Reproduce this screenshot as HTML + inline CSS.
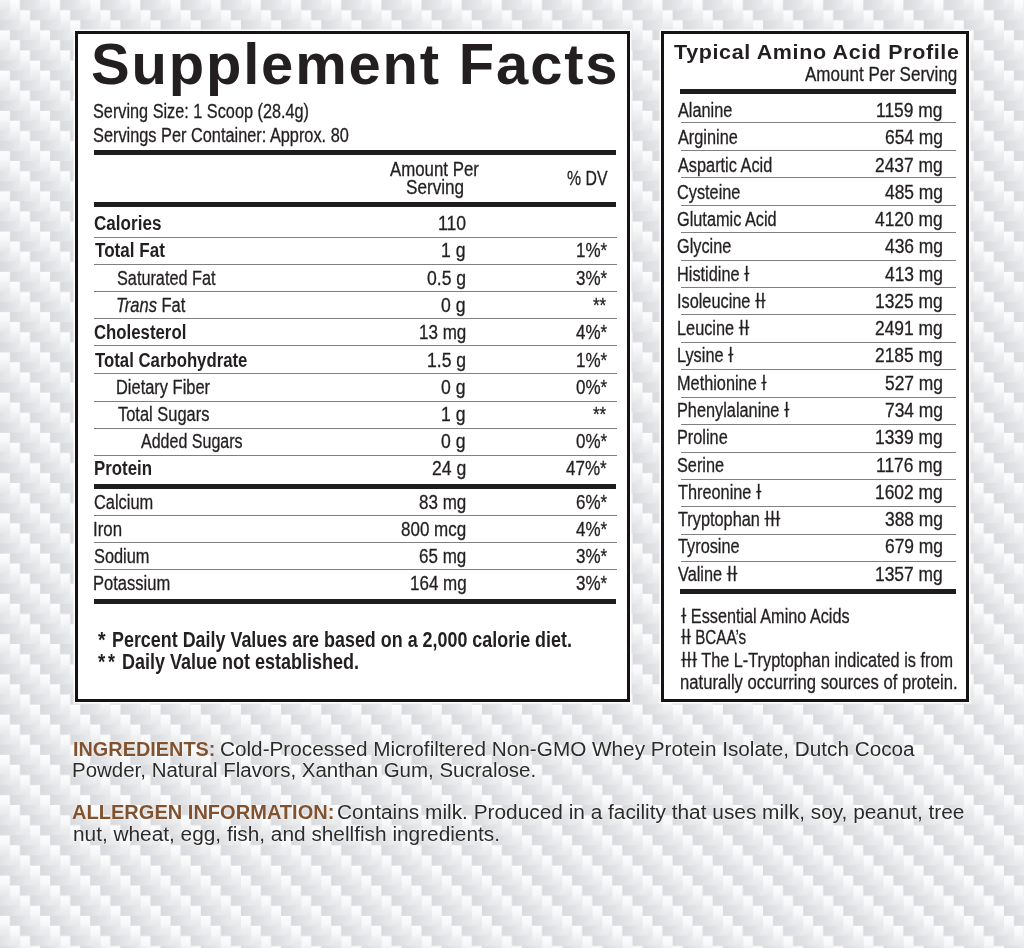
<!DOCTYPE html>
<html><head><meta charset="utf-8"><title>Supplement Facts</title>
<style>
html,body{margin:0;padding:0}
body{width:1024px;height:948px;overflow:hidden;position:relative;background:#e6e6e7}
.bg{position:absolute;left:0;top:0}
.box{position:absolute;background:#fff;border:3px solid #151314;box-sizing:border-box;box-shadow:0 0 0 1.5px rgba(255,255,255,.95)}
.r{position:absolute}
.t{position:absolute;white-space:pre;line-height:normal;transform-origin:0 0}
.t i{font-style:italic}
.g{text-shadow:0 0 2px rgba(255,255,255,.9),0 0 1px rgba(255,255,255,.9)}
</style></head><body>
<svg class="bg" width="1024" height="948"><defs><pattern id="cf" x="0" y="0" width="40.160" height="40.252" patternUnits="userSpaceOnUse"><linearGradient id='gw' x1='0' y1='0' x2='0' y2='1'><stop offset='0' stop-color='#fdfdfe'/><stop offset='0.45' stop-color='#f6f7f8'/><stop offset='0.55' stop-color='#f1f2f3'/><stop offset='1' stop-color='#e7e8ea'/></linearGradient><linearGradient id='gf' x1='0' y1='0' x2='1' y2='0'><stop offset='0' stop-color='#d9dadd'/><stop offset='0.5' stop-color='#e0e1e4'/><stop offset='1' stop-color='#eaebed'/></linearGradient><rect x='0.000' y='30.189' width='10.070' height='20.156' fill='url(#gw)'/><rect x='0.000' y='-10.063' width='10.070' height='20.156' fill='url(#gw)'/><rect x='10.040' y='0.000' width='10.070' height='20.156' fill='url(#gw)'/><rect x='10.040' y='-40.252' width='10.070' height='20.156' fill='url(#gw)'/><rect x='20.080' y='10.063' width='10.070' height='20.156' fill='url(#gw)'/><rect x='20.080' y='-30.189' width='10.070' height='20.156' fill='url(#gw)'/><rect x='30.120' y='20.126' width='10.070' height='20.156' fill='url(#gw)'/><rect x='30.120' y='-20.126' width='10.070' height='20.156' fill='url(#gw)'/><rect x='20.080' y='0.000' width='20.110' height='10.093' fill='url(#gf)'/><rect x='-20.080' y='0.000' width='20.110' height='10.093' fill='url(#gf)'/><rect x='30.120' y='10.063' width='20.110' height='10.093' fill='url(#gf)'/><rect x='-10.040' y='10.063' width='20.110' height='10.093' fill='url(#gf)'/><rect x='40.160' y='20.126' width='20.110' height='10.093' fill='url(#gf)'/><rect x='0.000' y='20.126' width='20.110' height='10.093' fill='url(#gf)'/><rect x='10.040' y='30.189' width='20.110' height='10.093' fill='url(#gf)'/><rect x='-30.120' y='30.189' width='20.110' height='10.093' fill='url(#gf)'/></pattern></defs><filter id="bl" x="0" y="0" width="1" height="1"><feGaussianBlur stdDeviation="0.6"/></filter><rect width="1024" height="948" fill="url(#cf)" filter="url(#bl)"/></svg>
<div class="box" style="left:75px;top:31px;width:555px;height:671px"></div>
<div class="box" style="left:661px;top:31px;width:308px;height:671px"></div>
<div class=r style='left:94px;top:150px;width:522px;height:5px;background:#1e1c1d'></div><div class=r style='left:94px;top:202px;width:522px;height:5px;background:#1e1c1d'></div><div class=r style='left:94px;top:237px;width:523px;height:1px;background:#808080'></div><div class=r style='left:94px;top:264px;width:523px;height:1px;background:#808080'></div><div class=r style='left:94px;top:291px;width:523px;height:1px;background:#808080'></div><div class=r style='left:94px;top:318px;width:523px;height:1px;background:#808080'></div><div class=r style='left:94px;top:345px;width:523px;height:1px;background:#808080'></div><div class=r style='left:94px;top:372.6px;width:523px;height:1px;background:#808080'></div><div class=r style='left:94px;top:400.6px;width:523px;height:1px;background:#808080'></div><div class=r style='left:94px;top:428px;width:523px;height:1px;background:#808080'></div><div class=r style='left:94px;top:455px;width:523px;height:1px;background:#808080'></div><div class=r style='left:94px;top:484px;width:522px;height:4.5px;background:#1e1c1d'></div><div class=r style='left:94px;top:515px;width:523px;height:1px;background:#808080'></div><div class=r style='left:94px;top:542.4px;width:523px;height:1px;background:#808080'></div><div class=r style='left:94px;top:569px;width:523px;height:1px;background:#808080'></div><div class=r style='left:94px;top:598.5px;width:522px;height:5px;background:#1e1c1d'></div><div class=r style='left:679.7px;top:89px;width:275.9px;height:5px;background:#1e1c1d'></div><div class=r style='left:680.7px;top:122.3px;width:275.8px;height:1px;background:#808080'></div><div class=r style='left:680.7px;top:149.74px;width:275.8px;height:1px;background:#808080'></div><div class=r style='left:680.7px;top:177.18px;width:275.8px;height:1px;background:#808080'></div><div class=r style='left:680.7px;top:204.62px;width:275.8px;height:1px;background:#808080'></div><div class=r style='left:680.7px;top:232.06px;width:275.8px;height:1px;background:#808080'></div><div class=r style='left:680.7px;top:259.5px;width:275.8px;height:1px;background:#808080'></div><div class=r style='left:680.7px;top:286.94px;width:275.8px;height:1px;background:#808080'></div><div class=r style='left:680.7px;top:314.38px;width:275.8px;height:1px;background:#808080'></div><div class=r style='left:680.7px;top:341.82px;width:275.8px;height:1px;background:#808080'></div><div class=r style='left:680.7px;top:369.26px;width:275.8px;height:1px;background:#808080'></div><div class=r style='left:680.7px;top:396.7px;width:275.8px;height:1px;background:#808080'></div><div class=r style='left:680.7px;top:424.14px;width:275.8px;height:1px;background:#808080'></div><div class=r style='left:680.7px;top:451.58px;width:275.8px;height:1px;background:#808080'></div><div class=r style='left:680.7px;top:479.02px;width:275.8px;height:1px;background:#808080'></div><div class=r style='left:680.7px;top:506.46px;width:275.8px;height:1px;background:#808080'></div><div class=r style='left:680.7px;top:533.9px;width:275.8px;height:1px;background:#808080'></div><div class=r style='left:680.7px;top:561.34px;width:275.8px;height:1px;background:#808080'></div><div class=r style='left:679.7px;top:589.2px;width:275.9px;height:5.2px;background:#1e1c1d'></div>
<div class='t' style="font-family:'Liberation Sans',sans-serif;font-size:57px;font-weight:700;letter-spacing:1.8px;left:90.57px;top:31.2px;color:#231f20;transform:scaleX(1.0167);">Supplement Facts</div>
<div class='t' style="font-family:'Liberation Sans',sans-serif;font-size:20px;font-weight:400;left:93.19px;top:99.8px;color:#231f20;transform:scaleX(0.8129);-webkit-text-stroke:0.3px #231f20">Serving Size: 1 Scoop (28.4g)</div>
<div class='t' style="font-family:'Liberation Sans',sans-serif;font-size:20px;font-weight:400;left:93.18px;top:123.9px;color:#231f20;transform:scaleX(0.8160);-webkit-text-stroke:0.3px #231f20">Servings Per Container: Approx. 80</div>
<div class='t' style="font-family:'Liberation Sans',sans-serif;font-size:20px;font-weight:400;left:390.4px;top:158px;color:#231f20;transform:scaleX(0.8419);-webkit-text-stroke:0.3px #231f20">Amount Per</div>
<div class='t' style="font-family:'Liberation Sans',sans-serif;font-size:20px;font-weight:400;left:405.74px;top:175.8px;color:#231f20;transform:scaleX(0.8576);-webkit-text-stroke:0.3px #231f20">Serving</div>
<div class='t' style="font-family:'Liberation Sans',sans-serif;font-size:20px;font-weight:400;left:567.21px;top:166.7px;color:#231f20;transform:scaleX(0.7920);-webkit-text-stroke:0.3px #231f20">% DV</div>
<div class='t' style="font-family:'Liberation Sans',sans-serif;font-size:20px;font-weight:700;left:94.15px;top:212.3px;color:#231f20;transform:scaleX(0.8545);">Calories</div>
<div class='t' style="font-family:'Liberation Sans',sans-serif;font-size:20px;font-weight:400;left:437.92px;top:212.3px;color:#231f20;transform:scaleX(0.8800);-webkit-text-stroke:0.3px #231f20">110</div>
<div class='t' style="font-family:'Liberation Sans',sans-serif;font-size:20px;font-weight:700;left:95px;top:239.3px;color:#231f20;transform:scaleX(0.8537);">Total Fat</div>
<div class='t' style="font-family:'Liberation Sans',sans-serif;font-size:20px;font-weight:400;left:441.44px;top:239.3px;color:#231f20;transform:scaleX(0.8800);-webkit-text-stroke:0.3px #231f20">1 g</div>
<div class='t' style="font-family:'Liberation Sans',sans-serif;font-size:20px;font-weight:400;left:575.6px;top:239.3px;color:#231f20;transform:scaleX(0.8500);-webkit-text-stroke:0.3px #231f20">1%*</div>
<div class='t' style="font-family:'Liberation Sans',sans-serif;font-size:20px;font-weight:400;left:117.19px;top:266.6px;color:#231f20;transform:scaleX(0.8125);-webkit-text-stroke:0.3px #231f20">Saturated Fat</div>
<div class='t' style="font-family:'Liberation Sans',sans-serif;font-size:20px;font-weight:400;left:427.36px;top:266.6px;color:#231f20;transform:scaleX(0.8800);-webkit-text-stroke:0.3px #231f20">0.5 g</div>
<div class='t' style="font-family:'Liberation Sans',sans-serif;font-size:20px;font-weight:400;left:575.6px;top:266.6px;color:#231f20;transform:scaleX(0.8500);-webkit-text-stroke:0.3px #231f20">3%*</div>
<div class='t' style="font-family:'Liberation Sans',sans-serif;font-size:20px;font-weight:400;left:116.35px;top:293.7px;color:#231f20;transform:scaleX(0.8244);-webkit-text-stroke:0.3px #231f20"><i>Trans</i> Fat</div>
<div class='t' style="font-family:'Liberation Sans',sans-serif;font-size:20px;font-weight:400;left:441.44px;top:293.7px;color:#231f20;transform:scaleX(0.8800);-webkit-text-stroke:0.3px #231f20">0 g</div>
<div class='t' style="font-family:'Liberation Sans',sans-serif;font-size:20px;font-weight:400;left:593.45px;top:293.7px;color:#231f20;transform:scaleX(0.8500);-webkit-text-stroke:0.3px #231f20">**</div>
<div class='t' style="font-family:'Liberation Sans',sans-serif;font-size:20px;font-weight:700;left:94.16px;top:320.8px;color:#231f20;transform:scaleX(0.8389);">Cholesterol</div>
<div class='t' style="font-family:'Liberation Sans',sans-serif;font-size:20px;font-weight:400;left:419.3px;top:320.8px;color:#231f20;transform:scaleX(0.8500);-webkit-text-stroke:0.3px #231f20">13 mg</div>
<div class='t' style="font-family:'Liberation Sans',sans-serif;font-size:20px;font-weight:400;left:575.6px;top:320.8px;color:#231f20;transform:scaleX(0.8500);-webkit-text-stroke:0.3px #231f20">4%*</div>
<div class='t' style="font-family:'Liberation Sans',sans-serif;font-size:20px;font-weight:700;left:95px;top:348.5px;color:#231f20;transform:scaleX(0.8381);">Total Carbohydrate</div>
<div class='t' style="font-family:'Liberation Sans',sans-serif;font-size:20px;font-weight:400;left:427.36px;top:348.5px;color:#231f20;transform:scaleX(0.8800);-webkit-text-stroke:0.3px #231f20">1.5 g</div>
<div class='t' style="font-family:'Liberation Sans',sans-serif;font-size:20px;font-weight:400;left:575.6px;top:348.5px;color:#231f20;transform:scaleX(0.8500);-webkit-text-stroke:0.3px #231f20">1%*</div>
<div class='t' style="font-family:'Liberation Sans',sans-serif;font-size:20px;font-weight:400;left:116.36px;top:375.7px;color:#231f20;transform:scaleX(0.8214);-webkit-text-stroke:0.3px #231f20">Dietary Fiber</div>
<div class='t' style="font-family:'Liberation Sans',sans-serif;font-size:20px;font-weight:400;left:441.44px;top:375.7px;color:#231f20;transform:scaleX(0.8800);-webkit-text-stroke:0.3px #231f20">0 g</div>
<div class='t' style="font-family:'Liberation Sans',sans-serif;font-size:20px;font-weight:400;left:575.6px;top:375.7px;color:#231f20;transform:scaleX(0.8500);-webkit-text-stroke:0.3px #231f20">0%*</div>
<div class='t' style="font-family:'Liberation Sans',sans-serif;font-size:20px;font-weight:400;left:118px;top:402.8px;color:#231f20;transform:scaleX(0.8218);-webkit-text-stroke:0.3px #231f20">Total Sugars</div>
<div class='t' style="font-family:'Liberation Sans',sans-serif;font-size:20px;font-weight:400;left:441.44px;top:402.8px;color:#231f20;transform:scaleX(0.8800);-webkit-text-stroke:0.3px #231f20">1 g</div>
<div class='t' style="font-family:'Liberation Sans',sans-serif;font-size:20px;font-weight:400;left:593.45px;top:402.8px;color:#231f20;transform:scaleX(0.8500);-webkit-text-stroke:0.3px #231f20">**</div>
<div class='t' style="font-family:'Liberation Sans',sans-serif;font-size:20px;font-weight:400;left:141.2px;top:430.2px;color:#231f20;transform:scaleX(0.8016);-webkit-text-stroke:0.3px #231f20">Added Sugars</div>
<div class='t' style="font-family:'Liberation Sans',sans-serif;font-size:20px;font-weight:400;left:441.44px;top:430.2px;color:#231f20;transform:scaleX(0.8800);-webkit-text-stroke:0.3px #231f20">0 g</div>
<div class='t' style="font-family:'Liberation Sans',sans-serif;font-size:20px;font-weight:400;left:575.6px;top:430.2px;color:#231f20;transform:scaleX(0.8500);-webkit-text-stroke:0.3px #231f20">0%*</div>
<div class='t' style="font-family:'Liberation Sans',sans-serif;font-size:20px;font-weight:700;left:94.16px;top:457.2px;color:#231f20;transform:scaleX(0.8418);">Protein</div>
<div class='t' style="font-family:'Liberation Sans',sans-serif;font-size:20px;font-weight:400;left:431.76px;top:457.2px;color:#231f20;transform:scaleX(0.8800);-webkit-text-stroke:0.3px #231f20">24 g</div>
<div class='t' style="font-family:'Liberation Sans',sans-serif;font-size:20px;font-weight:400;left:566.25px;top:457.2px;color:#231f20;transform:scaleX(0.8500);-webkit-text-stroke:0.3px #231f20">47%*</div>
<div class='t' style="font-family:'Liberation Sans',sans-serif;font-size:20px;font-weight:400;left:94.18px;top:491px;color:#231f20;transform:scaleX(0.8200);-webkit-text-stroke:0.3px #231f20">Calcium</div>
<div class='t' style="font-family:'Liberation Sans',sans-serif;font-size:20px;font-weight:400;left:419.3px;top:491px;color:#231f20;transform:scaleX(0.8500);-webkit-text-stroke:0.3px #231f20">83 mg</div>
<div class='t' style="font-family:'Liberation Sans',sans-serif;font-size:20px;font-weight:400;left:575.6px;top:491px;color:#231f20;transform:scaleX(0.8500);-webkit-text-stroke:0.3px #231f20">6%*</div>
<div class='t' style="font-family:'Liberation Sans',sans-serif;font-size:20px;font-weight:400;left:93.32px;top:518px;color:#231f20;transform:scaleX(0.8419);-webkit-text-stroke:0.3px #231f20">Iron</div>
<div class='t' style="font-family:'Liberation Sans',sans-serif;font-size:20px;font-weight:400;left:401.45px;top:518px;color:#231f20;transform:scaleX(0.8500);-webkit-text-stroke:0.3px #231f20">800 mcg</div>
<div class='t' style="font-family:'Liberation Sans',sans-serif;font-size:20px;font-weight:400;left:575.6px;top:518px;color:#231f20;transform:scaleX(0.8500);-webkit-text-stroke:0.3px #231f20">4%*</div>
<div class='t' style="font-family:'Liberation Sans',sans-serif;font-size:20px;font-weight:400;left:94.18px;top:545px;color:#231f20;transform:scaleX(0.8182);-webkit-text-stroke:0.3px #231f20">Sodium</div>
<div class='t' style="font-family:'Liberation Sans',sans-serif;font-size:20px;font-weight:400;left:419.3px;top:545px;color:#231f20;transform:scaleX(0.8500);-webkit-text-stroke:0.3px #231f20">65 mg</div>
<div class='t' style="font-family:'Liberation Sans',sans-serif;font-size:20px;font-weight:400;left:575.6px;top:545px;color:#231f20;transform:scaleX(0.8500);-webkit-text-stroke:0.3px #231f20">3%*</div>
<div class='t' style="font-family:'Liberation Sans',sans-serif;font-size:20px;font-weight:400;left:93.35px;top:572px;color:#231f20;transform:scaleX(0.8267);-webkit-text-stroke:0.3px #231f20">Potassium</div>
<div class='t' style="font-family:'Liberation Sans',sans-serif;font-size:20px;font-weight:400;left:409.95px;top:572px;color:#231f20;transform:scaleX(0.8500);-webkit-text-stroke:0.3px #231f20">164 mg</div>
<div class='t' style="font-family:'Liberation Sans',sans-serif;font-size:20px;font-weight:400;left:575.6px;top:572px;color:#231f20;transform:scaleX(0.8500);-webkit-text-stroke:0.3px #231f20">3%*</div>
<div class='t' style="font-family:'Liberation Sans',sans-serif;font-size:22.3px;font-weight:700;left:97.6px;top:626.6px;color:#231f20;transform:scaleX(0.8750);">*</div>
<div class='t' style="font-family:'Liberation Sans',sans-serif;font-size:22.3px;font-weight:700;left:112px;top:627.3px;color:#231f20;transform:scaleX(0.8032);">Percent Daily Values are based on a 2,000 calorie diet.</div>
<div class='t' style="font-family:'Liberation Sans',sans-serif;font-size:22.3px;font-weight:700;left:97.6px;top:648.5px;color:#231f20;transform:scaleX(0.8375);">*</div>
<div class='t' style="font-family:'Liberation Sans',sans-serif;font-size:22.3px;font-weight:700;left:108.4px;top:648.5px;color:#231f20;transform:scaleX(0.8000);">*</div>
<div class='t' style="font-family:'Liberation Sans',sans-serif;font-size:22.3px;font-weight:700;left:122.19px;top:649.2px;color:#231f20;transform:scaleX(0.8072);">Daily Value not established.</div>
<div class='t' style="font-family:'Liberation Sans',sans-serif;font-size:20.5px;font-weight:700;letter-spacing:0.6px;left:673.8px;top:39.9px;color:#231f20;transform:scaleX(1.0487);">Typical Amino Acid Profile</div>
<div class='t' style="font-family:'Liberation Sans',sans-serif;font-size:20px;font-weight:400;left:805px;top:63.4px;color:#231f20;transform:scaleX(0.8511);-webkit-text-stroke:0.3px #231f20">Amount Per Serving</div>
<div class='t' style="font-family:'Liberation Sans',sans-serif;font-size:20px;font-weight:400;left:678.3px;top:99px;color:#231f20;transform:scaleX(0.8150);-webkit-text-stroke:0.3px #231f20">Alanine</div>
<div class='t' style="font-family:'Liberation Sans',sans-serif;font-size:20px;font-weight:400;left:876.45px;top:99px;color:#231f20;transform:scaleX(0.8700);-webkit-text-stroke:0.3px #231f20">1159 mg</div>
<div class='t' style="font-family:'Liberation Sans',sans-serif;font-size:20px;font-weight:400;left:678.3px;top:126.27px;color:#231f20;transform:scaleX(0.8150);-webkit-text-stroke:0.3px #231f20">Arginine</div>
<div class='t' style="font-family:'Liberation Sans',sans-serif;font-size:20px;font-weight:400;left:885.15px;top:126.27px;color:#231f20;transform:scaleX(0.8700);-webkit-text-stroke:0.3px #231f20">654 mg</div>
<div class='t' style="font-family:'Liberation Sans',sans-serif;font-size:20px;font-weight:400;left:678.3px;top:153.54px;color:#231f20;transform:scaleX(0.8150);-webkit-text-stroke:0.3px #231f20">Aspartic Acid</div>
<div class='t' style="font-family:'Liberation Sans',sans-serif;font-size:20px;font-weight:400;left:874.71px;top:153.54px;color:#231f20;transform:scaleX(0.8700);-webkit-text-stroke:0.3px #231f20">2437 mg</div>
<div class='t' style="font-family:'Liberation Sans',sans-serif;font-size:20px;font-weight:400;left:677.48px;top:180.81px;color:#231f20;transform:scaleX(0.8150);-webkit-text-stroke:0.3px #231f20">Cysteine</div>
<div class='t' style="font-family:'Liberation Sans',sans-serif;font-size:20px;font-weight:400;left:885.15px;top:180.81px;color:#231f20;transform:scaleX(0.8700);-webkit-text-stroke:0.3px #231f20">485 mg</div>
<div class='t' style="font-family:'Liberation Sans',sans-serif;font-size:20px;font-weight:400;left:677.48px;top:208.08px;color:#231f20;transform:scaleX(0.8150);-webkit-text-stroke:0.3px #231f20">Glutamic Acid</div>
<div class='t' style="font-family:'Liberation Sans',sans-serif;font-size:20px;font-weight:400;left:874.71px;top:208.08px;color:#231f20;transform:scaleX(0.8700);-webkit-text-stroke:0.3px #231f20">4120 mg</div>
<div class='t' style="font-family:'Liberation Sans',sans-serif;font-size:20px;font-weight:400;left:677.48px;top:235.35px;color:#231f20;transform:scaleX(0.8150);-webkit-text-stroke:0.3px #231f20">Glycine</div>
<div class='t' style="font-family:'Liberation Sans',sans-serif;font-size:20px;font-weight:400;left:885.15px;top:235.35px;color:#231f20;transform:scaleX(0.8700);-webkit-text-stroke:0.3px #231f20">436 mg</div>
<div class='t' style="font-family:'Liberation Sans',sans-serif;font-size:20px;font-weight:400;left:676.67px;top:262.62px;color:#231f20;transform:scaleX(0.8150);-webkit-text-stroke:0.3px #231f20">Histidine ɫ</div>
<div class='t' style="font-family:'Liberation Sans',sans-serif;font-size:20px;font-weight:400;left:885.15px;top:262.62px;color:#231f20;transform:scaleX(0.8700);-webkit-text-stroke:0.3px #231f20">413 mg</div>
<div class='t' style="font-family:'Liberation Sans',sans-serif;font-size:20px;font-weight:400;left:676.67px;top:289.89px;color:#231f20;transform:scaleX(0.8150);-webkit-text-stroke:0.3px #231f20">Isoleucine ɫɫ</div>
<div class='t' style="font-family:'Liberation Sans',sans-serif;font-size:20px;font-weight:400;left:874.71px;top:289.89px;color:#231f20;transform:scaleX(0.8700);-webkit-text-stroke:0.3px #231f20">1325 mg</div>
<div class='t' style="font-family:'Liberation Sans',sans-serif;font-size:20px;font-weight:400;left:676.67px;top:317.16px;color:#231f20;transform:scaleX(0.8150);-webkit-text-stroke:0.3px #231f20">Leucine ɫɫ</div>
<div class='t' style="font-family:'Liberation Sans',sans-serif;font-size:20px;font-weight:400;left:874.71px;top:317.16px;color:#231f20;transform:scaleX(0.8700);-webkit-text-stroke:0.3px #231f20">2491 mg</div>
<div class='t' style="font-family:'Liberation Sans',sans-serif;font-size:20px;font-weight:400;left:676.67px;top:344.43px;color:#231f20;transform:scaleX(0.8150);-webkit-text-stroke:0.3px #231f20">Lysine ɫ</div>
<div class='t' style="font-family:'Liberation Sans',sans-serif;font-size:20px;font-weight:400;left:874.71px;top:344.43px;color:#231f20;transform:scaleX(0.8700);-webkit-text-stroke:0.3px #231f20">2185 mg</div>
<div class='t' style="font-family:'Liberation Sans',sans-serif;font-size:20px;font-weight:400;left:676.67px;top:371.7px;color:#231f20;transform:scaleX(0.8150);-webkit-text-stroke:0.3px #231f20">Methionine ɫ</div>
<div class='t' style="font-family:'Liberation Sans',sans-serif;font-size:20px;font-weight:400;left:885.15px;top:371.7px;color:#231f20;transform:scaleX(0.8700);-webkit-text-stroke:0.3px #231f20">527 mg</div>
<div class='t' style="font-family:'Liberation Sans',sans-serif;font-size:20px;font-weight:400;left:676.67px;top:398.97px;color:#231f20;transform:scaleX(0.8150);-webkit-text-stroke:0.3px #231f20">Phenylalanine ɫ</div>
<div class='t' style="font-family:'Liberation Sans',sans-serif;font-size:20px;font-weight:400;left:885.15px;top:398.97px;color:#231f20;transform:scaleX(0.8700);-webkit-text-stroke:0.3px #231f20">734 mg</div>
<div class='t' style="font-family:'Liberation Sans',sans-serif;font-size:20px;font-weight:400;left:676.67px;top:426.24px;color:#231f20;transform:scaleX(0.8150);-webkit-text-stroke:0.3px #231f20">Proline</div>
<div class='t' style="font-family:'Liberation Sans',sans-serif;font-size:20px;font-weight:400;left:874.71px;top:426.24px;color:#231f20;transform:scaleX(0.8700);-webkit-text-stroke:0.3px #231f20">1339 mg</div>
<div class='t' style="font-family:'Liberation Sans',sans-serif;font-size:20px;font-weight:400;left:677.48px;top:453.51px;color:#231f20;transform:scaleX(0.8150);-webkit-text-stroke:0.3px #231f20">Serine</div>
<div class='t' style="font-family:'Liberation Sans',sans-serif;font-size:20px;font-weight:400;left:876.45px;top:453.51px;color:#231f20;transform:scaleX(0.8700);-webkit-text-stroke:0.3px #231f20">1176 mg</div>
<div class='t' style="font-family:'Liberation Sans',sans-serif;font-size:20px;font-weight:400;left:678.3px;top:480.78px;color:#231f20;transform:scaleX(0.8150);-webkit-text-stroke:0.3px #231f20">Threonine ɫ</div>
<div class='t' style="font-family:'Liberation Sans',sans-serif;font-size:20px;font-weight:400;left:874.71px;top:480.78px;color:#231f20;transform:scaleX(0.8700);-webkit-text-stroke:0.3px #231f20">1602 mg</div>
<div class='t' style="font-family:'Liberation Sans',sans-serif;font-size:20px;font-weight:400;left:678.3px;top:508.05px;color:#231f20;transform:scaleX(0.8150);-webkit-text-stroke:0.3px #231f20">Tryptophan ɫɫɫ</div>
<div class='t' style="font-family:'Liberation Sans',sans-serif;font-size:20px;font-weight:400;left:885.15px;top:508.05px;color:#231f20;transform:scaleX(0.8700);-webkit-text-stroke:0.3px #231f20">388 mg</div>
<div class='t' style="font-family:'Liberation Sans',sans-serif;font-size:20px;font-weight:400;left:678.3px;top:535.32px;color:#231f20;transform:scaleX(0.8150);-webkit-text-stroke:0.3px #231f20">Tyrosine</div>
<div class='t' style="font-family:'Liberation Sans',sans-serif;font-size:20px;font-weight:400;left:885.15px;top:535.32px;color:#231f20;transform:scaleX(0.8700);-webkit-text-stroke:0.3px #231f20">679 mg</div>
<div class='t' style="font-family:'Liberation Sans',sans-serif;font-size:20px;font-weight:400;left:678.3px;top:562.59px;color:#231f20;transform:scaleX(0.8150);-webkit-text-stroke:0.3px #231f20">Valine ɫɫ</div>
<div class='t' style="font-family:'Liberation Sans',sans-serif;font-size:20px;font-weight:400;left:874.71px;top:562.59px;color:#231f20;transform:scaleX(0.8700);-webkit-text-stroke:0.3px #231f20">1357 mg</div>
<div class='t' style="font-family:'Liberation Sans',sans-serif;font-size:20px;font-weight:400;left:681px;top:604.8px;color:#231f20;transform:scaleX(0.8116);-webkit-text-stroke:0.3px #231f20">ɫ Essential Amino Acids</div>
<div class='t' style="font-family:'Liberation Sans',sans-serif;font-size:20px;font-weight:400;left:681px;top:626.2px;color:#231f20;transform:scaleX(0.7600);-webkit-text-stroke:0.3px #231f20">ɫɫ BCAA’s</div>
<div class='t' style="font-family:'Liberation Sans',sans-serif;font-size:20px;font-weight:400;left:681px;top:648.8px;color:#231f20;transform:scaleX(0.8138);-webkit-text-stroke:0.3px #231f20">ɫɫɫ The L-Tryptophan indicated is from</div>
<div class='t' style="font-family:'Liberation Sans',sans-serif;font-size:20px;font-weight:400;left:680.17px;top:671.3px;color:#231f20;transform:scaleX(0.8323);-webkit-text-stroke:0.3px #231f20">naturally occurring sources of protein.</div>
<div class='t g' style="font-family:'Liberation Sans',sans-serif;font-size:20px;font-weight:700;left:72.81px;top:737.5px;color:#805230;transform:scaleX(0.9936);">INGREDIENTS:</div>
<div class='t g' style="font-family:'Liberation Sans',sans-serif;font-size:20px;font-weight:400;left:220.46px;top:737.5px;color:#2b2b2b;transform:scaleX(1.0363);">Cold-Processed Microfiltered Non-GMO Whey Protein Isolate, Dutch Cocoa</div>
<div class='t g' style="font-family:'Liberation Sans',sans-serif;font-size:20px;font-weight:400;left:71.75px;top:758.7px;color:#2b2b2b;transform:scaleX(1.0233);">Powder, Natural Flavors, Xanthan Gum, Sucralose.</div>
<div class='t g' style="font-family:'Liberation Sans',sans-serif;font-size:20px;font-weight:700;left:72.4px;top:801.4px;color:#805230;transform:scaleX(1.0023);">ALLERGEN INFORMATION:</div>
<div class='t g' style="font-family:'Liberation Sans',sans-serif;font-size:20px;font-weight:400;left:336.96px;top:801.4px;color:#2b2b2b;transform:scaleX(1.0420);">Contains milk. Produced in a facility that uses milk, soy, peanut, tree</div>
<div class='t g' style="font-family:'Liberation Sans',sans-serif;font-size:20px;font-weight:400;left:72.76px;top:822.5px;color:#2b2b2b;transform:scaleX(1.0408);">nut, wheat, egg, fish, and shellfish ingredients.</div>
</body></html>
